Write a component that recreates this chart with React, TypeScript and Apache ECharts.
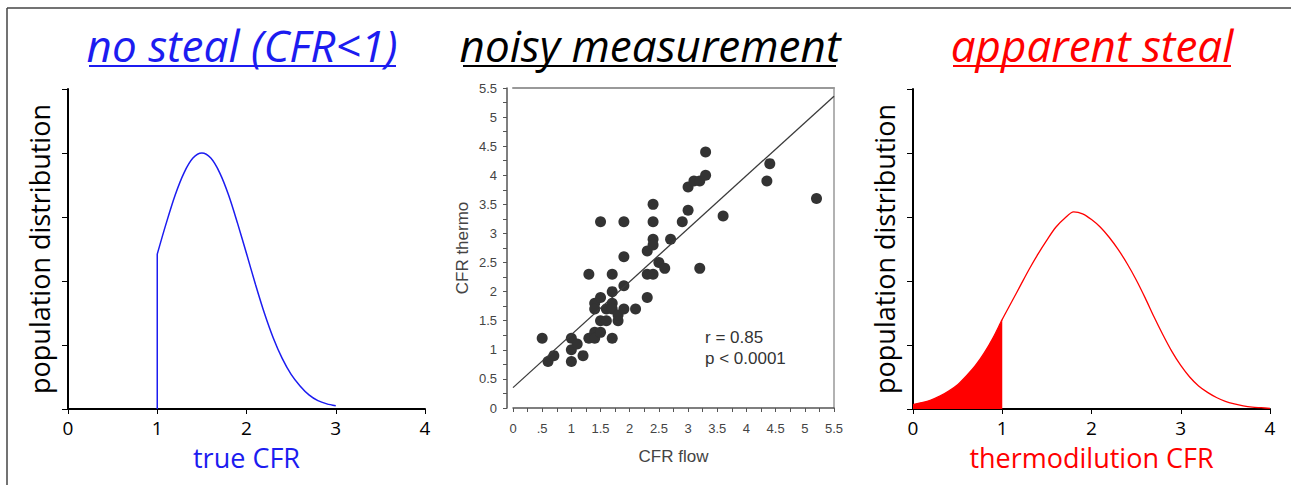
import React, { useEffect, useRef } from "react";
import * as echarts from "echarts";

// ---------- data ----------
// left panel: true CFR distribution (truncated at CFR = 1)
const trueCfrX = [1.0, 1.1, 1.2, 1.3, 1.4, 1.5, 1.6, 1.7, 1.8, 1.9, 2.0, 2.1, 2.2, 2.3, 2.4, 2.5, 2.6, 2.7, 2.8, 2.9, 3.0];
const trueCfrY = [2.42, 2.9, 3.34, 3.69, 3.92, 4.0, 3.92, 3.69, 3.34, 2.9, 2.43, 1.95, 1.5, 1.11, 0.79, 0.54, 0.36, 0.22, 0.13, 0.08, 0.05];
const truncX = [1.0, 1.0];
const truncY = [0, 2.42];

// middle panel: scatter CFR flow vs CFR thermo
const flowX = [0.5, 0.6, 0.7, 1.0, 1.0, 1.0, 1.1, 1.2, 1.3, 1.3, 1.4, 1.4, 1.4, 1.4, 1.5, 1.5, 1.5, 1.5, 1.6, 1.6, 1.7, 1.7, 1.7, 1.7, 1.7, 1.8, 1.8, 1.9, 1.9, 1.9, 1.9, 2.1, 2.3, 2.3, 2.3, 2.4, 2.4, 2.4, 2.4, 2.4, 2.5, 2.6, 2.7, 2.9, 3.0, 3.0, 3.1, 3.2, 3.2, 3.3, 3.3, 3.6, 4.35, 4.4, 5.2];
const thermoY = [1.2, 0.8, 0.9, 1.2, 1.0, 0.8, 1.1, 0.9, 2.3, 1.2, 1.8, 1.7, 1.3, 1.2, 3.2, 1.9, 1.5, 1.3, 1.5, 1.7, 2.3, 2.0, 1.8, 1.7, 1.2, 1.5, 1.6, 3.2, 2.6, 2.1, 1.7, 1.7, 2.7, 2.3, 1.9, 3.5, 3.2, 2.9, 2.8, 2.3, 2.5, 2.4, 2.9, 3.2, 3.4, 3.8, 3.9, 3.9, 2.4, 4.0, 4.4, 3.3, 3.9, 4.2, 3.6];
const regX = [0, 5.5];
const regY = [0.35, 5.36];
const flowTickLabels = ["0", ".5", "1", "1.5", "2", "2.5", "3", "3.5", "4", "4.5", "5", "5.5"];
const thermoTickLabels = ["0", "0.5", "1", "1.5", "2", "2.5", "3", "3.5", "4", "4.5", "5", "5.5"];

// right panel: thermodilution CFR distribution
const thermoCfrX = [0.0, 0.1, 0.2, 0.3, 0.4, 0.5, 0.6, 0.7, 0.8, 0.9, 1.0, 1.1, 1.2, 1.3, 1.4, 1.5, 1.6, 1.7, 1.8, 1.9, 2.0, 2.1, 2.2, 2.3, 2.4, 2.5, 2.6, 2.7, 2.8, 2.9, 3.0, 3.1, 3.2, 3.3, 3.4, 3.5, 3.6, 3.7, 3.8, 3.9, 4.0];
const thermoCfrY = [0.07, 0.1, 0.14, 0.2, 0.28, 0.38, 0.52, 0.68, 0.88, 1.12, 1.4, 1.66, 1.92, 2.18, 2.42, 2.64, 2.84, 2.98, 3.08, 3.05, 2.96, 2.84, 2.68, 2.49, 2.27, 2.02, 1.74, 1.44, 1.16, 0.9, 0.68, 0.5, 0.36, 0.26, 0.18, 0.12, 0.08, 0.05, 0.03, 0.02, 0.01];
const stealLimit = 1.0;

const distTicks = ["0", "1", "2", "3", "4"];

const BLUE = "#1c1cf0";
const RED = "#ff0000";
const CAL = '"Open Sans", "Noto Sans", sans-serif';
const ARIAL = '"Liberation Sans", Arial, sans-serif';

const pairs = (xs: number[], ys: number[]) => xs.map((x, i) => [x, ys[i]]);

export default function App() {
  const ref = useRef<HTMLDivElement>(null);
  useEffect(() => {
    if (!ref.current) return;
    const chart = echarts.init(ref.current, undefined, { renderer: "svg" });

    const distX = (gi: number, name: string, color: string) => ({
      type: "value",
      gridIndex: gi,
      min: 0,
      max: 4,
      interval: 1,
      name,
      nameLocation: "middle",
      nameGap: 35,
      nameTextStyle: { color, fontSize: 27, fontFamily: CAL },
      axisLine: { show: true, onZero: false, lineStyle: { color: "#000", width: 2 } },
      axisTick: { show: true, length: 5, lineStyle: { color: "#000", width: 1 } },
      axisLabel: { show: true, color: "#000", fontSize: 19, fontFamily: CAL, margin: 9, formatter: (v: number) => distTicks[Math.round(v)] ?? "" },
      splitLine: { show: false },
    });
    const distY = (gi: number) => ({
      type: "value",
      gridIndex: gi,
      min: 0,
      max: 5,
      interval: 1,
      name: "population distribution",
      nameLocation: "middle",
      nameGap: 15,
      nameTextStyle: { color: "#000", fontSize: 27, fontFamily: CAL },
      axisLine: { show: true, onZero: false, lineStyle: { color: "#000", width: 2 } },
      axisTick: { show: true, length: 6, lineStyle: { color: "#000", width: 1 } },
      axisLabel: { show: false },
      splitLine: { show: false },
    });

    const option: any = {
      animation: false,
      backgroundColor: "#fff",
      grid: [
        { left: 68, top: 89, width: 357, height: 320 },
        { left: 513, top: 88, width: 321, height: 320 },
        { left: 913, top: 89, width: 357, height: 320 },
      ],
      xAxis: [
        distX(0, "true CFR", BLUE),
        {
          type: "value",
          gridIndex: 1,
          min: 0,
          max: 5.5,
          interval: 0.25,
          name: "CFR flow",
          nameLocation: "middle",
          nameGap: 40,
          nameTextStyle: { color: "#444", fontSize: 17, fontFamily: ARIAL },
          axisLine: { show: true, onZero: false, lineStyle: { color: "#555", width: 1.5 } },
          axisTick: { show: true, length: 4, lineStyle: { color: "#555", width: 1 } },
          axisLabel: {
            show: true,
            color: "#444",
            fontSize: 13,
            fontFamily: ARIAL,
            margin: 14,
            formatter: (v: number) => {
              const k = v / 0.5;
              return Math.abs(k - Math.round(k)) < 1e-6 ? flowTickLabels[Math.round(k)] ?? "" : "";
            },
          },
          splitLine: { show: false },
        },
        {
          type: "value",
          gridIndex: 1,
          position: "top",
          min: 0,
          max: 5.5,
          axisLine: { show: true, onZero: false, lineStyle: { color: "#999", width: 2 } },
          axisTick: { show: false },
          axisLabel: { show: false },
          splitLine: { show: false },
        },
        distX(2, "thermodilution CFR", RED),
      ],
      yAxis: [
        distY(0),
        {
          type: "value",
          gridIndex: 1,
          min: 0,
          max: 5.5,
          interval: 0.25,
          offset: 6,
          name: "CFR thermo",
          nameLocation: "middle",
          nameGap: 36,
          nameTextStyle: { color: "#444", fontSize: 17, fontFamily: ARIAL },
          axisLine: { show: true, onZero: false, lineStyle: { color: "#555", width: 1.5 } },
          axisTick: { show: true, length: 4, lineStyle: { color: "#555", width: 1 } },
          axisLabel: {
            show: true,
            color: "#444",
            fontSize: 13,
            fontFamily: ARIAL,
            margin: 10,
            formatter: (v: number) => {
              const k = v / 0.5;
              return Math.abs(k - Math.round(k)) < 1e-6 ? thermoTickLabels[Math.round(k)] ?? "" : "";
            },
          },
          splitLine: { show: false },
        },
        {
          type: "value",
          gridIndex: 1,
          position: "right",
          min: 0,
          max: 5.5,
          axisLine: { show: true, onZero: false, lineStyle: { color: "#999", width: 1.5 } },
          axisTick: { show: false },
          axisLabel: { show: false },
          splitLine: { show: false },
        },
        distY(2),
      ],
      series: [
        {
          type: "line",
          xAxisIndex: 0,
          yAxisIndex: 0,
          data: pairs(truncX, truncY),
          showSymbol: false,
          lineStyle: { color: BLUE, width: 1.5 },
        },
        {
          type: "line",
          xAxisIndex: 0,
          yAxisIndex: 0,
          data: pairs(trueCfrX, trueCfrY),
          smooth: 0.3,
          showSymbol: false,
          lineStyle: { color: BLUE, width: 1.5 },
        },
        {
          type: "line",
          xAxisIndex: 1,
          yAxisIndex: 1,
          data: pairs(regX, regY),
          showSymbol: false,
          lineStyle: { color: "#3a3a3a", width: 1.3 },
        },
        {
          type: "scatter",
          xAxisIndex: 1,
          yAxisIndex: 1,
          data: pairs(flowX, thermoY),
          symbolSize: 11,
          itemStyle: { color: "#333", opacity: 1 },
        },
        {
          type: "line",
          xAxisIndex: 3,
          yAxisIndex: 3,
          data: pairs(thermoCfrX, thermoCfrY).filter((p) => p[0] <= stealLimit + 1e-9),
          smooth: 0.3,
          showSymbol: false,
          lineStyle: { width: 0, color: RED },
          areaStyle: { color: RED, opacity: 1 },
        },
        {
          type: "line",
          xAxisIndex: 3,
          yAxisIndex: 3,
          data: pairs(thermoCfrX, thermoCfrY),
          smooth: 0.3,
          showSymbol: false,
          lineStyle: { color: RED, width: 1.3 },
        },
      ],
      graphic: [
        { type: "line", shape: { x1: 7, y1: 8, x2: 1291, y2: 8 }, style: { stroke: "#444", lineWidth: 1.5 } },
        { type: "line", shape: { x1: 7, y1: 8, x2: 7, y2: 485 }, style: { stroke: "#444", lineWidth: 1.5 } },
        {
          type: "text",
          x: 242,
          y: 45,
          style: { text: "no steal (CFR<1)", fill: BLUE, fontSize: 44, fontStyle: "italic", fontFamily: CAL, align: "center", verticalAlign: "middle" },
        },
        { type: "line", shape: { x1: 89, y1: 66, x2: 396, y2: 66 }, style: { stroke: BLUE, lineWidth: 2 } },
        {
          type: "text",
          x: 650,
          y: 45,
          style: { text: "noisy measurement", fill: "#000", fontSize: 44, fontStyle: "italic", fontFamily: CAL, align: "center", verticalAlign: "middle" },
        },
        { type: "line", shape: { x1: 463, y1: 66, x2: 836, y2: 66 }, style: { stroke: "#000", lineWidth: 2 } },
        {
          type: "text",
          x: 1092,
          y: 45,
          style: { text: "apparent steal", fill: RED, fontSize: 44, fontStyle: "italic", fontFamily: CAL, align: "center", verticalAlign: "middle" },
        },
        { type: "line", shape: { x1: 953, y1: 66, x2: 1231, y2: 66 }, style: { stroke: RED, lineWidth: 2 } },
        {
          type: "text",
          x: 705,
          y: 337,
          style: { text: "r = 0.85", fill: "#333", fontSize: 17, fontFamily: ARIAL, align: "left", verticalAlign: "middle" },
        },
        {
          type: "text",
          x: 705,
          y: 358,
          style: { text: "p < 0.0001", fill: "#333", fontSize: 17, fontFamily: ARIAL, align: "left", verticalAlign: "middle" },
        },
      ],
    };
    chart.setOption(option);
    return () => chart.dispose();
  }, []);
  return <div ref={ref} style={{ position: "fixed", left: 0, top: 0, width: 1291, height: 485 }} />;
}
